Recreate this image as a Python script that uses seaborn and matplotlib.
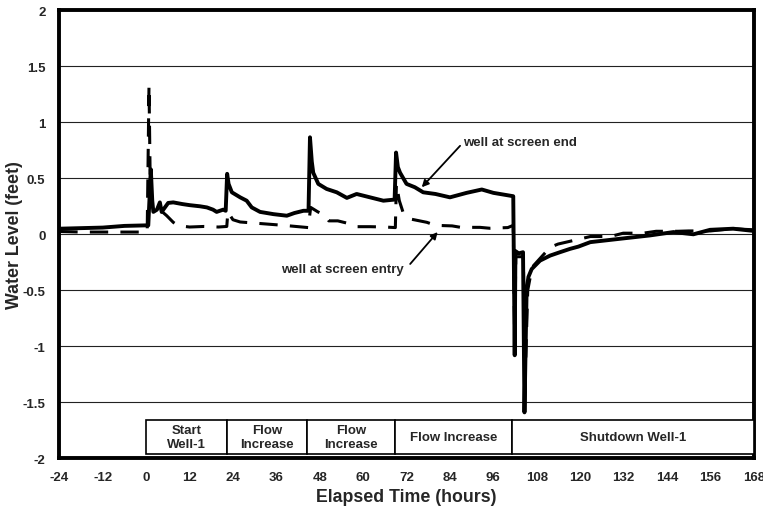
import matplotlib
matplotlib.use("Agg")
import matplotlib.pyplot as plt
from matplotlib.patches import Rectangle
import seaborn as sns
import pandas as pd

# ---- data ----
end_x = [-24, -18, -12, -6, 0.3, 0.6, 1.3, 1.7, 2.0, 3.0, 3.8, 4.3, 5.2, 6.1, 7.5, 10, 12.1, 14.9,
         16.8, 18.5, 19.5, 21.3, 22.0, 22.4, 22.8, 23.7, 26, 27.8, 29.2, 31.5, 35.2, 38.9, 41, 43.5,
         44.9, 45.3, 45.8, 46.2, 47.6, 49.9, 52.7, 55.5, 58.2, 61.9, 65.6, 68.7, 69.1, 69.6, 70.2,
         72, 74.3, 76.6, 80, 84, 88.6, 92.8, 96, 101.5, 101.9, 102.1, 103.0, 104.2, 104.6, 105.2,
         105.7, 106.6, 108.9, 111.7, 114.4, 117.2, 119.5, 122.8, 131, 139.3, 145.8, 151.3, 155.9,
         162.3, 168]
end_y = [0.05, 0.055, 0.06, 0.075, 0.08, 0.08, 0.58, 0.30, 0.20, 0.22, 0.285, 0.20, 0.24, 0.28, 0.285,
         0.27, 0.26, 0.25, 0.24, 0.22, 0.20, 0.22, 0.21, 0.54, 0.45, 0.375, 0.33, 0.30, 0.24, 0.20,
         0.18, 0.166, 0.19, 0.21, 0.21, 0.866, 0.65, 0.55, 0.45, 0.405, 0.375, 0.325, 0.36, 0.33,
         0.30, 0.31, 0.73, 0.60, 0.55, 0.45, 0.42, 0.375, 0.36, 0.33, 0.37, 0.40, 0.37, 0.34, -1.08,
         -0.15, -0.17, -0.16, -1.59, -0.49, -0.38, -0.31, -0.235, -0.19, -0.16, -0.13, -0.11, -0.07,
         -0.04, -0.01, 0.02, 0.0, 0.04, 0.05, 0.03]

entry_x = [-24, -18, -12, -6, 0.3, 0.8, 1.2, 2, 3, 4.5, 5.7, 7.5, 8.9, 12, 16, 20, 22.3, 22.6, 24, 26,
           30, 34, 38, 44.8, 45.5, 47.5, 49.5, 50.5, 53, 55.5, 58, 62, 66, 68.9, 69.2, 70, 71, 73,
           77.6, 80, 84.6, 87, 92.3, 95, 100, 101.5, 101.9, 102.2, 104.3, 104.7, 105.5, 106.5, 107.1,
           111.7, 113.9, 119.5, 122.8, 128.3, 131.9, 137.4, 141, 147, 150, 156, 162, 168]
entry_y = [0.025, 0.02, 0.02, 0.02, 0.02, 1.33, 0.30, 0.26, 0.20, 0.20, 0.166, 0.107, 0.077, 0.065,
           0.07, 0.065, 0.07, 0.20, 0.13, 0.11, 0.10, 0.09, 0.08, 0.06, 0.24, 0.20, 0.17, 0.12, 0.12,
           0.10, 0.068, 0.068, 0.065, 0.06, 0.45, 0.30, 0.20, 0.137, 0.107, 0.08, 0.075, 0.062, 0.062,
           0.054, 0.06, 0.08, -1.0, -0.2, -0.2, -1.4, -0.5, -0.33, -0.28, -0.116, -0.087, -0.045,
           -0.02, -0.02, 0.01, 0.01, 0.027, 0.027, 0.03, 0.03, 0.05, 0.04]

phase_labels = ["Start\nWell-1", "Flow\nIncrease", "Flow\nIncrease", "Flow Increase", "Shutdown Well-1"]
phase_start = [0, 22.4, 44.6, 68.7, 101.2]
phase_end = [22.4, 44.6, 68.7, 101.2, 168]

x_ticks = [-24, -12, 0, 12, 24, 36, 48, 60, 72, 84, 96, 108, 120, 132, 144, 156, 168]
y_ticks = [-2, -1.5, -1, -0.5, 0, 0.5, 1, 1.5, 2]
y_tick_labels = ["-2", "-1.5", "-1", "-0.5", "0", "0.5", "1", "1.5", "2"]

end_df = pd.DataFrame({"t": end_x, "level": end_y})
entry_df = pd.DataFrame({"t": entry_x, "level": entry_y})

# ---- style ----
sns.set_style("white")
plt.rcParams["font.family"] = ["Liberation Sans", "DejaVu Sans"]
plt.rcParams["font.weight"] = "bold"

fig = plt.figure(figsize=(7.63, 5.10), dpi=100)
W, H = 763, 510
left, right, top, bottom = 59.3, 753.8, 11.3, 459.3
ax = fig.add_axes([left / W, 1 - bottom / H, (right - left) / W, (bottom - top) / H])

for yv in y_ticks[1:-1]:
    ax.axhline(yv, color="#222222", lw=0.8, zorder=1)

sns.lineplot(data=end_df, x="t", y="level", ax=ax, sort=False, estimator=None,
             color="black", lw=2.8, zorder=3)
sns.lineplot(data=entry_df, x="t", y="level", ax=ax, sort=False, estimator=None,
             color="black", lw=2.2, linestyle=(0, (6, 4)), zorder=4)

# phase boxes
box_lo, box_hi = -1.964, -1.655
for lab, s, e in zip(phase_labels, phase_start, phase_end):
    ax.add_patch(Rectangle((s, box_lo), e - s, box_hi - box_lo, facecolor="white",
                           edgecolor="black", lw=1.2, zorder=5))
    ax.text((s + e) / 2, (box_lo + box_hi) / 2, lab, ha="center", va="center",
            fontsize=9.5, fontweight="bold", zorder=6, linespacing=1.15)

# annotations
ax.text(87.6, 0.82, "well at screen end", ha="left", va="center", fontsize=9.5, fontweight="bold")
ax.annotate("", xy=(76.2, 0.42), xytext=(86.8, 0.79),
            arrowprops=dict(arrowstyle="-|>", color="black", lw=1.3, mutation_scale=10,
                            shrinkA=0, shrinkB=0))
ax.text(54.2, -0.31, "well at screen entry", ha="center", va="center", fontsize=9.5, fontweight="bold")
ax.annotate("", xy=(80.6, 0.02), xytext=(73.0, -0.265),
            arrowprops=dict(arrowstyle="-|>", color="black", lw=1.3, mutation_scale=10,
                            shrinkA=0, shrinkB=0))

ax.set_xlim(-24, 168)
ax.set_ylim(-2, 2)
ax.set_xticks(x_ticks)
ax.set_xticklabels([str(v) for v in x_ticks], fontsize=9.5, fontweight="bold")
ax.set_yticks(y_ticks)
ax.set_yticklabels(y_tick_labels, fontsize=9.5, fontweight="bold")
ax.tick_params(axis="x", direction="out", length=3.5, width=1.2, pad=6, color="black")
ax.tick_params(axis="y", length=0, pad=10)

for sp in ax.spines.values():
    sp.set_visible(True)
    sp.set_color("black")
    sp.set_linewidth(2.8)

ax.set_xlabel("Elapsed Time (hours)", fontsize=12.8, fontweight="bold")
ax.set_ylabel("Water Level (feet)", fontsize=12.8, fontweight="bold")
ax.xaxis.set_label_coords(0.5, -0.066)
ax.yaxis.set_label_coords(-0.052, 0.5)

fig.savefig("out.png", dpi=100)
